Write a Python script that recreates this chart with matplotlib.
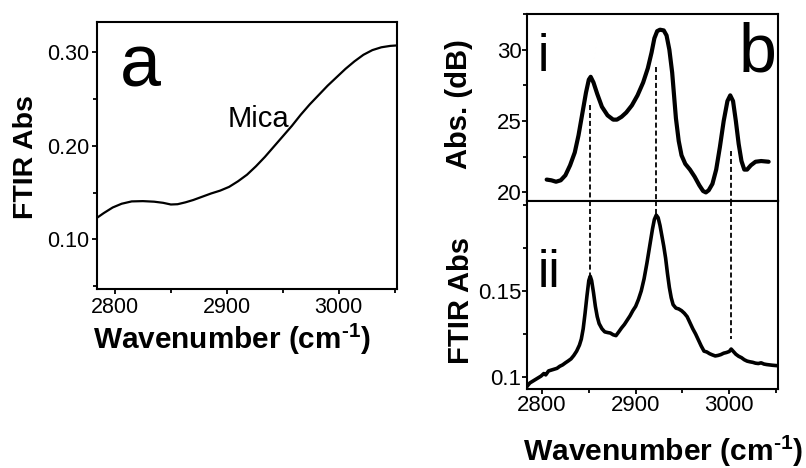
import matplotlib
matplotlib.use("Agg")
import matplotlib.pyplot as plt
from matplotlib.ticker import MultipleLocator

plt.rcParams['font.family'] = ['Liberation Sans', 'DejaVu Sans']
plt.rcParams['mathtext.fontset'] = 'custom'
plt.rcParams['mathtext.rm'] = 'Liberation Sans'
plt.rcParams['mathtext.bf'] = 'Liberation Sans:bold'

# ---------------- data ----------------
mica_x = [2784, 2790, 2798, 2806, 2815, 2825, 2835, 2843, 2850, 2856, 2863, 2870,
          2878, 2886, 2894, 2902, 2910, 2918, 2926, 2934, 2942, 2950, 2958, 2966,
          2974, 2982, 2990, 2998, 3006, 3014, 3022, 3030, 3038, 3046, 3052]
mica_y = [0.123, 0.128, 0.134, 0.138, 0.1405, 0.1408, 0.1402, 0.139, 0.1372, 0.1375,
          0.1395, 0.142, 0.1455, 0.149, 0.152, 0.156, 0.162, 0.169, 0.178, 0.188,
          0.199, 0.210, 0.221, 0.233, 0.244, 0.254, 0.264, 0.273, 0.282, 0.290,
          0.297, 0.302, 0.305, 0.3065, 0.307]

sim_x = [2805, 2810, 2815, 2820, 2825, 2830, 2835, 2839, 2843, 2847, 2850, 2852,
         2855, 2859, 2864, 2870, 2876, 2880, 2885, 2890, 2896, 2902, 2908, 2913,
         2917, 2920, 2923, 2926, 2930, 2933, 2936, 2939, 2941, 2943, 2946, 2949,
         2953, 2958, 2963, 2968, 2972, 2975, 2978, 2982, 2986, 2990, 2994, 2998,
         3001, 3004, 3007, 3010, 3013, 3016, 3019, 3023, 3028, 3034, 3042]
sim_db = [20.9, 20.85, 20.75, 20.85, 21.2, 21.9, 22.8, 24.0, 25.5, 27.0, 27.9, 28.1,
          27.7, 26.9, 26.0, 25.4, 25.1, 25.1, 25.3, 25.6, 26.1, 26.8, 27.7, 28.7,
          29.8, 30.8, 31.3, 31.4, 31.35, 31.0, 30.0, 28.4, 26.8, 25.2, 23.6, 22.6,
          22.0, 21.6, 21.1, 20.5, 20.1, 20.0, 20.15, 20.6, 21.6, 23.2, 25.0, 26.4,
          26.8, 26.4, 25.0, 23.4, 22.2, 21.6, 21.6, 21.9, 22.15, 22.2, 22.15]

ftir_x = [2784, 2787, 2790, 2793, 2796, 2799, 2802, 2804, 2807, 2810, 2813, 2816,
          2819, 2822, 2825, 2828, 2831, 2834, 2837, 2840, 2842, 2844, 2846, 2848,
          2850, 2851.5, 2853, 2855, 2857, 2859, 2861, 2864, 2867, 2870, 2873, 2876,
          2879, 2882, 2885, 2888, 2891, 2894, 2897, 2900, 2903, 2906, 2909, 2912,
          2915, 2918, 2920, 2922, 2924, 2926, 2928, 2930, 2932, 2934, 2936, 2938,
          2940, 2943, 2946, 2949, 2952, 2955, 2958, 2961, 2964, 2967, 2970, 2973,
          2976, 2979, 2982, 2985, 2988, 2991, 2994, 2997, 3000, 3002, 3004, 3007,
          3010, 3013, 3016, 3019, 3022, 3025, 3028, 3031, 3034, 3037, 3040, 3043,
          3046, 3050]
ftir_y = [0.0945, 0.0965, 0.0975, 0.0985, 0.0995, 0.1005, 0.102, 0.1012, 0.1035,
          0.104, 0.1045, 0.105, 0.1062, 0.107, 0.1082, 0.1093, 0.1105, 0.1125,
          0.115, 0.1185, 0.122, 0.128, 0.137, 0.147, 0.156, 0.1585, 0.156, 0.149,
          0.141, 0.135, 0.131, 0.128, 0.1262, 0.1258, 0.1255, 0.1245, 0.124, 0.1262,
          0.1285, 0.1305, 0.133, 0.1355, 0.1385, 0.141, 0.145, 0.150, 0.157, 0.166,
          0.176, 0.186, 0.1915, 0.194, 0.1925, 0.188, 0.182, 0.176, 0.169, 0.160,
          0.152, 0.146, 0.142, 0.140, 0.1395, 0.1385, 0.137, 0.135, 0.1315, 0.128,
          0.125, 0.1215, 0.118, 0.115, 0.1145, 0.1135, 0.1128, 0.1122, 0.1125,
          0.113, 0.1138, 0.1142, 0.1148, 0.1162, 0.115, 0.1132, 0.112, 0.1112,
          0.110, 0.1092, 0.1088, 0.1085, 0.108, 0.1078, 0.1082, 0.1075, 0.1072,
          0.107, 0.1068, 0.1066]

peak_x = [2851.5, 2922, 3002]
peak_top_db = [26.1, 28.8, 22.9]
peak_bottom_abs = [0.158, 0.194, 0.122]

x_ticks = [2800, 2900, 3000]
a_yticks = [0.10, 0.20, 0.30]
bi_yticks = [20, 25, 30]
bii_yticks = [0.1, 0.15]

XLABEL = 'Wavenumber (cm$^{\\mathbf{\u2010}\\mathbf{1}}$)'

# ---------------- figure ----------------
W, H = 806, 468
fig = plt.figure(figsize=(W / 100, H / 100), dpi=100)


def rect(l, t, r, b):
    return [l / W, 1 - b / H, (r - l) / W, (b - t) / H]


def fx(px):
    return px / W


def fy(py):
    return 1 - py / H


SPW = 1.5
TICKFS = 15.5
axa = fig.add_axes(rect(97, 22, 397, 289))
axi = fig.add_axes(rect(527, 14, 778, 201))
axii = fig.add_axes(rect(527, 201, 778, 389))

for ax in (axa, axi, axii):
    for s in ax.spines.values():
        s.set_linewidth(SPW)
    ax.tick_params(which='both', direction='out', width=1.3, top=False, right=False)
    ax.tick_params(which='major', length=3.5)
    ax.tick_params(which='minor', length=3)

# panel a
axa.plot(mica_x, mica_y, color='black', lw=1.6)
axa.set_xlim(2784, 3052)
axa.set_ylim(0.047, 0.332)
axa.set_xticks(x_ticks)
axa.set_yticks(a_yticks)
axa.set_yticklabels(['%.2f' % v for v in a_yticks])
axa.xaxis.set_minor_locator(MultipleLocator(50))
axa.yaxis.set_minor_locator(MultipleLocator(0.05))
axa.tick_params(axis='both', labelsize=TICKFS)
axa.tick_params(axis='x', pad=2.2)
axa.tick_params(axis='y', pad=2)
axa.text(0.143, 0.7575, 'a', transform=axa.transAxes, fontsize=53,
         ha='center', va='baseline')
axa.text(0.538, 0.608, 'Mica', transform=axa.transAxes, fontsize=21,
         ha='center', va='baseline')

fig.text(fx(26), fy(157), 'FTIR Abs', rotation=90, fontsize=20.5,
         fontweight='bold', ha='center', va='center')
fig.text(fx(232.5), fy(349), XLABEL, fontsize=21.4,
         fontweight='bold', ha='center', va='baseline')

# panel b (i)
axi.plot(sim_x, sim_db, color='black', lw=3.0, solid_capstyle='round')
axi.set_xlim(2784, 3052)
axi.set_ylim(19.4, 32.5)
axi.set_xticks([])
axi.tick_params(axis='x', which='both', bottom=False, labelbottom=False)
axi.set_yticks(bi_yticks)
axi.yaxis.set_minor_locator(MultipleLocator(2.5))
axi.tick_params(axis='y', labelsize=TICKFS + 0.5, pad=0.5)

# panel b (ii)
axii.plot(ftir_x, ftir_y, color='black', lw=2.6)
axii.set_xlim(2784, 3052)
axii.set_ylim(0.093, 0.2022)
axii.set_xticks(x_ticks)
axii.xaxis.set_minor_locator(MultipleLocator(50))
axii.set_yticks(bii_yticks)
axii.set_yticklabels(['0.1', '0.15'])
axii.yaxis.set_minor_locator(MultipleLocator(0.025))
axii.tick_params(axis='both', labelsize=TICKFS + 0.5)
axii.tick_params(axis='x', pad=0.8)
axii.tick_params(axis='y', pad=0.5)

dash = (0, (2.8, 1.6))
for px, t_db, b_abs in zip(peak_x, peak_top_db, peak_bottom_abs):
    axi.plot([px, px], [t_db, 19.4], color='black', lw=1.3, linestyle=dash)
    axii.plot([px, px], [0.2022, b_abs], color='black', lw=1.3, linestyle=dash)

fig.text(fx(543), fy(71), 'i', fontsize=37, ha='center', va='baseline')
fig.text(fx(549), fy(287), 'ii', fontsize=37, ha='center', va='baseline')
fig.text(fx(757.5), fy(71.7), 'b', fontsize=49, ha='center', va='baseline')

fig.text(fx(459), fy(104), 'Abs. (dB)', rotation=90, fontsize=21,
         fontweight='bold', ha='center', va='center')
fig.text(fx(461), fy(301), 'FTIR Abs', rotation=90, fontsize=21,
         fontweight='bold', ha='center', va='center')
fig.text(fx(663), fy(461), XLABEL, fontsize=21.6,
         fontweight='bold', ha='center', va='baseline')

fig.savefig('out.png', dpi=100, facecolor='white')
